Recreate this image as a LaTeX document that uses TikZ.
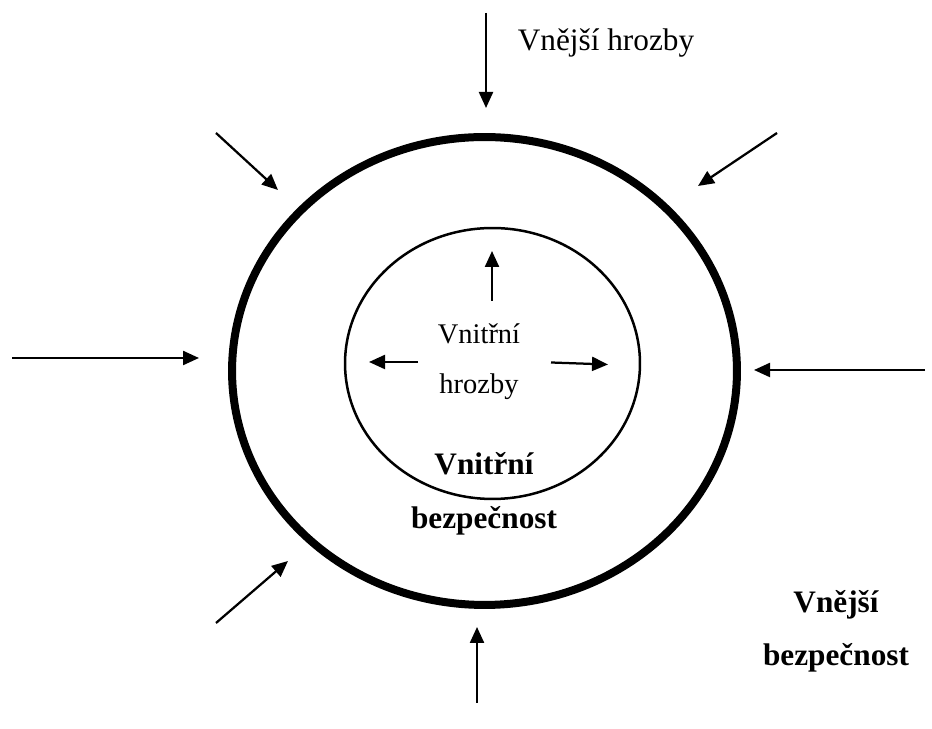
\documentclass[tikz,border=0pt]{standalone}
\usepackage{fontspec}
\setmainfont{Liberation Serif}
\usetikzlibrary{arrows.meta,shapes.geometric}

\begin{document}
\begin{tikzpicture}
	[x=0.02cm,y=0.02cm,
	 edge/.style={-{Triangle[length=0.32cm,width=0.28cm]},line width=0.045cm},
	 ring/.style={ellipse,draw,inner sep=0pt},
	 lbl/.style={align=center,font=\fontsize{17.8}{30}\selectfont}]
	\useasboundingbox (0,0) rectangle (932,729);
	\node[ring,line width=0.16cm,minimum width=10.1cm,minimum height=9.36cm] (outer) at (484.5,358) {};
	\node[ring,line width=0.05cm,minimum width=5.9cm,minimum height=5.42cm] (inner) at (492.5,365.5) {};
	
	\node[lbl] (ext) at (606,686) {Vnější hrozby};
	\node[lbl,font=\fontsize{16.2}{28.5}\selectfont] (int) at (479,367) {Vnitřní\\hrozby};
	\node[lbl,font=\bfseries\fontsize{17.8}{31}\selectfont] (intsec) at (484,235) {Vnitřní\\bezpečnost};
	\node[lbl,font=\bfseries\fontsize{17.8}{30}\selectfont] (extsec) at (836,98) {Vnější\\bezpečnost};
	
	\coordinate (s0) at (486,716);  \coordinate (e0) at (486,621);
	\coordinate (s1) at (216,596);  \coordinate (e1) at (278,539);
	\coordinate (s2) at (777,596);  \coordinate (e2) at (698,543);
	\coordinate (s3) at (12,371);   \coordinate (e3) at (199,371);
	\coordinate (s4) at (925,359);  \coordinate (e4) at (754,359);
	\coordinate (s5) at (216,106);  \coordinate (e5) at (288,168);
	\coordinate (s6) at (477,26);   \coordinate (e6) at (477,102);
	\coordinate (u0) at (492,428);  \coordinate (v0) at (492,478);
	\coordinate (u1) at (418,367);  \coordinate (v1) at (369,367);
	\coordinate (u2) at (551,366.5);\coordinate (v2) at (608,364.5);
	
	\draw[edge] (s0) -- (e0);
	\draw[edge] (s1) -- (e1);
	\draw[edge] (s2) -- (e2);
	\draw[edge] (s3) -- (e3);
	\draw[edge] (s4) -- (e4);
	\draw[edge] (s5) -- (e5);
	\draw[edge] (s6) -- (e6);
	\draw[edge] (u0) -- (v0);
	\draw[edge] (u1) -- (v1);
	\draw[edge] (u2) -- (v2);
\end{tikzpicture}
\end{document}
